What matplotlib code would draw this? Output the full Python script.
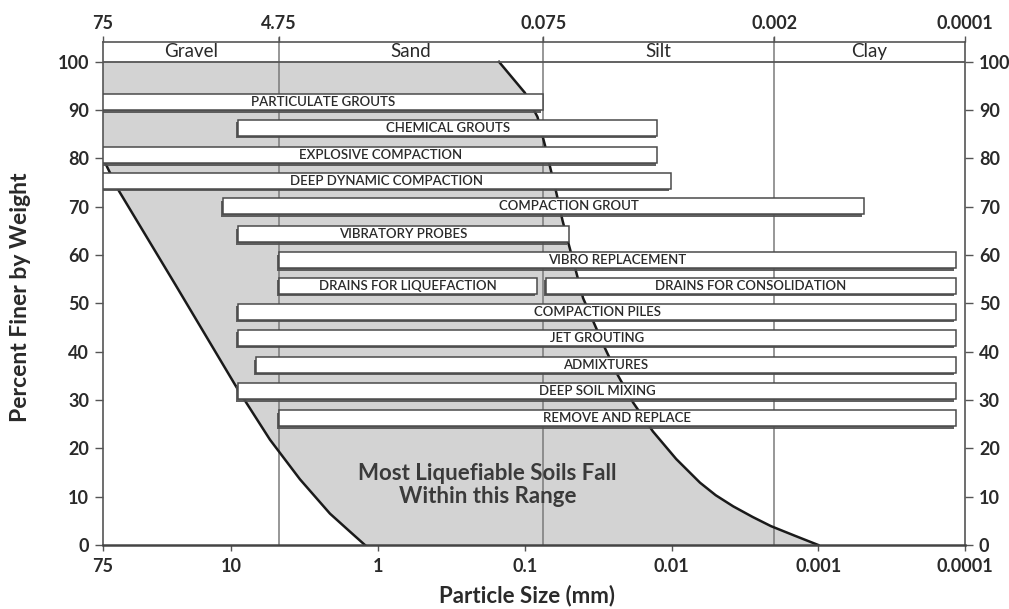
import numpy as np
import matplotlib
matplotlib.use("Agg")
import matplotlib.pyplot as plt
from matplotlib import patheffects as pe
from matplotlib.patches import Rectangle
from matplotlib.ticker import FixedLocator, NullLocator

plt.rcParams['font.family'] = ['Lato', 'DejaVu Sans']

# ---------------- data ----------------
bottom_ticks = [75, 10, 1, 0.1, 0.01, 0.001, 0.0001]
bottom_tick_labels = ['75', '10', '1', '0.1', '0.01', '0.001', '0.0001']
top_ticks = [75, 4.75, 0.075, 0.002, 0.0001]
top_tick_labels = ['75', '4.75', '0.075', '0.002', '0.0001']
y_ticks = [0, 10, 20, 30, 40, 50, 60, 70, 80, 90, 100]

soil_classes = ['Gravel', 'Sand', 'Silt', 'Clay']
class_bounds = [75, 4.75, 0.075, 0.002, 0.0001]

# coarse boundary of liquefiable range (mm, % finer)
left_size = [75, 59, 24, 9.0, 5.46, 3.41, 2.13, 1.56, 1.23]
left_pct = [80, 73.5, 53.8, 32.1, 21.8, 13.6, 6.5, 2.8, 0]
# fine boundary of liquefiable range
right_size = [0.150, 0.100, 0.082, 0.073, 0.067, 0.061, 0.0555, 0.0505, 0.0445,
              0.0401, 0.0284, 0.0235, 0.0183, 0.0134, 0.0093, 0.0064, 0.0050,
              0.0038, 0.0028, 0.0021, 0.00144, 0.0010]
right_pct = [100, 93.6, 88.6, 82.8, 78, 72.9, 67.3, 62.5, 56.3,
             51.1, 40.7, 35.4, 29.5, 23.5, 17.8, 12.9, 10.3,
             8.0, 5.8, 3.9, 1.9, 0]

methods = ['PARTICULATE GROUTS', 'CHEMICAL GROUTS', 'EXPLOSIVE COMPACTION',
           'DEEP DYNAMIC COMPACTION', 'COMPACTION GROUT', 'VIBRATORY PROBES',
           'VIBRO REPLACEMENT', 'DRAINS FOR LIQUEFACTION',
           'DRAINS FOR CONSOLIDATION', 'COMPACTION PILES', 'JET GROUTING',
           'ADMIXTURES', 'DEEP SOIL MIXING', 'REMOVE AND REPLACE']
method_coarse = [75, 9.0, 75, 75, 11.4, 9.0, 4.75, 4.75, 0.072, 9.0, 9.0, 6.8, 9.0, 4.75]
method_fine = [0.075, 0.0125, 0.0125, 0.0101, 0.00049, 0.050, 0.000115, 0.083,
               0.000115, 0.000115, 0.000115, 0.000115, 0.000115, 0.000115]
method_level = [90.0, 84.7, 79.0, 73.7, 68.5, 62.7, 57.3, 52.0, 52.0,
                46.6, 41.2, 35.6, 30.2, 24.6]
method_label_at = [None, None, None, None, 0.05, None, None, None, None,
                   None, None, None, None, None]

note_text = 'Most Liquefiable Soils Fall\nWithin this Range'
note_size = 0.18
note_pct = 12.4

# ---------------- figure ----------------
W, H = 1009, 609
fig = plt.figure(figsize=(W / 100, H / 100), dpi=100)
ax = fig.add_axes([103 / W, 1 - 545 / H, (965 - 103) / W, (545 - 42) / H])
ax.set_xscale('log')
ax.set_xlim(75, 0.0001)
ax.set_ylim(0, 104.1)

# shaded liquefiable range
poly_x = list(left_size[::-1]) + [75, 75] + list(right_size)
poly_y = list(left_pct[::-1]) + [80, 100] + list(right_pct)
ax.fill(poly_x, poly_y, color='#d3d3d3', lw=0, zorder=1)
ax.plot(left_size, left_pct, color='#1a1a1a', lw=1.8, zorder=2,
        solid_joinstyle='round')
ax.plot(right_size, right_pct, color='#1a1a1a', lw=1.8, zorder=2,
        solid_joinstyle='round')

# class boundaries and header band
for b in class_bounds[1:-1]:
    ax.axvline(b, ymin=0, ymax=1, color='#7a7a7a', lw=1.1, zorder=1.5)
    ax.plot([b, b], [104.1, 105.0], color='#7a7a7a', lw=1.1, clip_on=False)
ax.axhline(100, color='#555555', lw=1.3, zorder=3)
for i, name in enumerate(soil_classes):
    xc = np.sqrt(class_bounds[i] * class_bounds[i + 1])
    ax.text(xc, 102.05, name, ha='center', va='center', fontsize=13.5,
            color='#2a2a2a', zorder=6)

# method bars
bar_h = 3.3
for name, xc_, xf_, lvl, lab in zip(methods, method_coarse, method_fine,
                                     method_level, method_label_at):
    r = Rectangle((xf_, lvl), xc_ - xf_, bar_h, facecolor='white',
                  edgecolor='#4a4a4a', lw=1.1, zorder=4)
    r.set_path_effects([pe.SimplePatchShadow(offset=(-1.2, -1.8),
                                             shadow_rgbFace='#505050', alpha=0.9),
                        pe.Normal()])
    ax.add_patch(r)
    lx = lab if lab is not None else np.sqrt(xc_ * xf_)
    ax.text(lx, lvl + bar_h / 2, name, ha='center', va='center',
            fontsize=9.5, fontweight='semibold', color='#2a2a2a', zorder=5)

ax.text(note_size, note_pct, note_text, ha='center', va='center',
        fontsize=16, fontweight='bold', color='#3a3a3a', linespacing=1.15,
        zorder=6)

# axes styling
for s in ['left', 'right', 'top']:
    ax.spines[s].set_color('#555555')
    ax.spines[s].set_linewidth(1.2)
ax.spines['bottom'].set_color('#444444')
ax.spines['bottom'].set_linewidth(1.8)

ax.xaxis.set_major_locator(FixedLocator(bottom_ticks))
ax.set_xticklabels(bottom_tick_labels)
ax.xaxis.set_minor_locator(NullLocator())
ax.set_yticks(y_ticks)
ax.yaxis.set_ticks_position('both')
ax.tick_params(axis='y', which='major', direction='out', length=6, width=1,
               color='#555555', labelsize=13, labelcolor='#2a2a2a',
               labelright=True, pad=4)
ax.tick_params(axis='x', which='major', direction='out', length=4, width=1,
               color='#555555', labelsize=13, labelcolor='#2a2a2a', pad=5)
for t in ax.get_xticklabels() + ax.get_yticklabels():
    t.set_fontweight('bold')

ax2 = ax.twiny()
ax2.set_xscale('log')
ax2.set_xlim(ax.get_xlim())
ax2.xaxis.set_major_locator(FixedLocator(top_ticks))
ax2.set_xticklabels(top_tick_labels)
ax2.xaxis.set_minor_locator(NullLocator())
ax2.tick_params(axis='x', direction='out', length=4, width=1, color='#555555',
                labelsize=13, labelcolor='#2a2a2a', pad=3)
for t in ax2.get_xticklabels():
    t.set_fontweight('bold')
for s in ax2.spines.values():
    s.set_visible(False)

ax.set_xlabel('Particle Size (mm)', fontsize=16, fontweight='bold',
              color='#2a2a2a')
ax.set_ylabel('Percent Finer by Weight', fontsize=16.5, fontweight='bold',
              color='#2a2a2a')
ax.xaxis.label.set_verticalalignment('center')
ax.yaxis.label.set_verticalalignment('center')
ax.yaxis.set_label_coords(-(103 - 21) / (965 - 103), (545 - 297) / (545 - 42))
ax.xaxis.set_label_coords((527 - 103) / (965 - 103), -(596 - 545) / (545 - 42))

fig.savefig('out.png', dpi=100, facecolor='white')
